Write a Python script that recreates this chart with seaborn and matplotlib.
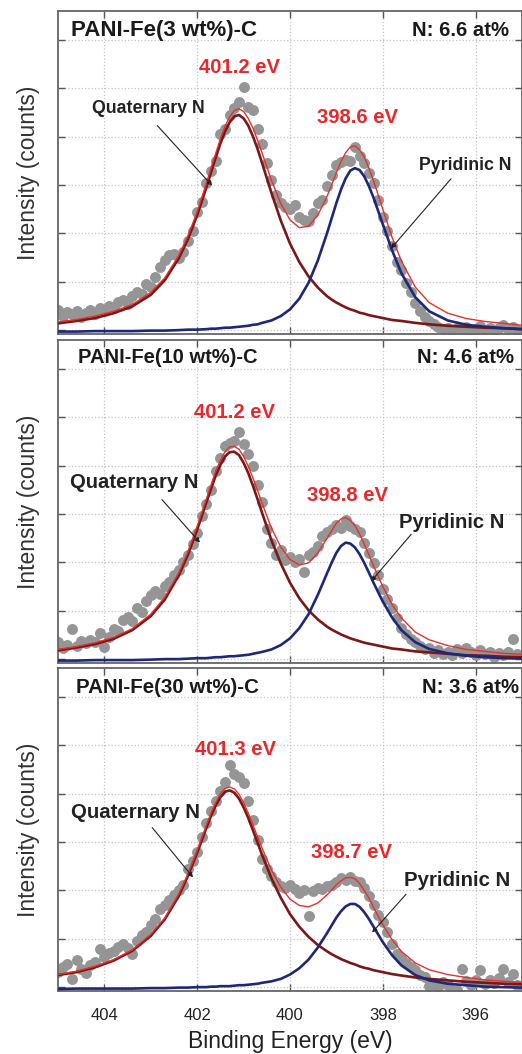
import pandas as pd
import matplotlib.pyplot as plt
import seaborn as sns

sns.set_theme(style="ticks")
plt.rcParams["font.family"] = ["Liberation Sans", "DejaVu Sans"]

# N 1s XPS spectra of three PANI-Fe-C catalysts (arbitrary intensity units)
scan_ev = [
    405.0, 404.9, 404.8, 404.7, 404.6, 404.5, 404.4, 404.3, 404.2, 404.1,
    404.0, 403.9, 403.8, 403.7, 403.6, 403.5, 403.4, 403.3, 403.2, 403.1,
    403.0, 402.9, 402.8, 402.7, 402.6, 402.5, 402.4, 402.3, 402.2, 402.1,
    402.0, 401.9, 401.8, 401.7, 401.6, 401.5, 401.4, 401.3, 401.2, 401.1,
    401.0, 400.9, 400.8, 400.7, 400.6, 400.5, 400.4, 400.3, 400.2, 400.1,
    400.0, 399.9, 399.8, 399.7, 399.6, 399.5, 399.4, 399.3, 399.2, 399.1,
    399.0, 398.9, 398.8, 398.7, 398.6, 398.5, 398.4, 398.3, 398.2, 398.1,
    398.0, 397.9, 397.8, 397.7, 397.6, 397.5, 397.4, 397.3, 397.2, 397.1,
    397.0, 396.9, 396.8, 396.7, 396.6, 396.5, 396.4, 396.3, 396.2, 396.1,
    396.0, 395.9, 395.8, 395.7, 395.6, 395.5, 395.4, 395.3, 395.2, 395.1,
]
spec_3wt = [
    0.42, 0.30, 0.38, 0.33, 0.40, 0.28, 0.36, 0.42, 0.34, 0.45,
    0.40, 0.50, 0.46, 0.58, 0.62, 0.55, 0.70, 0.78, 0.74, 0.95,
    0.90, 1.10, 1.30, 1.45, 1.55, 1.58, 1.50, 1.62, 1.85, 2.05,
    2.45, 2.65, 3.05, 3.30, 3.50, 4.05, 4.15, 4.45, 4.60, 4.72,
    5.03, 4.62, 4.55, 4.15, 3.85, 3.45, 3.10, 2.80, 2.62, 2.55,
    2.50, 2.58, 2.35, 2.28, 2.25, 2.42, 2.62, 2.70, 2.98, 3.20,
    3.42, 3.48, 3.52, 3.50, 3.78, 3.60, 3.45, 3.25, 3.05, 2.70,
    2.35, 2.05, 1.75, 1.40, 1.25, 0.98, 0.78, 0.56, 0.40, 0.27,
    0.18, 0.12, 0.06, 0.02, 0.05, -0.02, 0.04, 0.00, 0.06, -0.03,
    0.03, 0.08, 0.00, 0.05, -0.02, 0.04, 0.10, 0.02, 0.07, 0.00,
]
spec_10wt = [
    0.35, 0.22, 0.30, 0.62, 0.28, 0.38, 0.33, 0.40, 0.36, 0.55,
    0.25, 0.45, 0.62, 0.58, 0.80, 0.88, 0.78, 1.05, 0.98, 1.20,
    1.32, 1.40, 1.35, 1.52, 1.60, 1.75, 1.85, 2.00, 2.15, 2.38,
    2.60, 2.95, 3.20, 3.50, 3.90, 4.15, 4.40, 4.48, 4.52, 4.70,
    4.45, 4.25, 4.00, 3.60, 3.25, 2.70, 2.40, 2.15, 2.25, 2.05,
    2.12, 2.00, 2.08, 1.80, 2.15, 2.22, 2.35, 2.55, 2.62, 2.70,
    2.78, 2.72, 2.88, 2.75, 2.70, 2.62, 2.40, 2.20, 1.98, 1.75,
    1.45, 1.25, 1.05, 0.85, 0.65, 0.52, 0.42, 0.35, 0.28, 0.20,
    0.24, 0.12, 0.18, 0.10, 0.15, 0.08, 0.20, 0.12, 0.22, 0.15,
    0.08, 0.18, 0.10, 0.14, 0.05, 0.12, 0.08, 0.15, 0.42, 0.10,
]
spec_30wt = [
    0.31, 0.42, 0.48, 0.16, 0.56, 0.38, 0.30, 0.45, 0.52, 0.78,
    0.62, 0.70, 0.75, 0.82, 0.90, 0.80, 0.68, 0.95, 1.08, 1.15,
    1.28, 1.40, 1.62, 1.70, 1.80, 1.90, 2.00, 2.12, 2.45, 2.60,
    2.80, 3.10, 3.40, 3.65, 3.85, 4.05, 4.25, 4.60, 4.40, 4.35,
    4.22, 3.85, 3.45, 3.05, 2.65, 2.45, 2.30, 2.18, 2.10, 2.05,
    2.12, 2.02, 1.95, 2.00, 1.48, 1.98, 2.06, 2.02, 2.10, 2.12,
    2.18, 2.25, 2.22, 2.28, 2.20, 2.18, 2.05, 1.88, 1.70, 1.50,
    1.35, 1.15, 0.90, 0.68, 0.60, 0.50, 0.42, 0.35, 0.25, 0.20,
    0.02, 0.08, 0.00, 0.10, 0.05, -0.05, -0.06, 0.38, 0.12, 0.04,
    0.15, 0.35, 0.06, 0.14, 0.08, 0.18, 0.37, 0.10, 0.27, 0.05,
]

fit_ev = [
    405.0, 404.6, 404.2, 403.8, 403.4, 403.0, 402.7, 402.4, 402.2, 402.0,
    401.8, 401.7, 401.6, 401.5, 401.4, 401.3, 401.2, 401.1, 401.0, 400.9,
    400.8, 400.7, 400.6, 400.4, 400.2, 400.0, 399.8, 399.6, 399.4, 399.2,
    399.1, 399.0, 398.9, 398.8, 398.7, 398.6, 398.5, 398.4, 398.3, 398.2,
    398.0, 397.8, 397.6, 397.3, 397.0, 396.6, 396.2, 395.8, 395.4, 395.0,
]
quat_3wt = [
    0.14, 0.19, 0.25, 0.35, 0.49, 0.73, 1.03, 1.48, 1.88, 2.38,
    2.96, 3.27, 3.57, 3.86, 4.11, 4.30, 4.42, 4.45, 4.38, 4.23,
    4.01, 3.75, 3.45, 2.84, 2.27, 1.79, 1.41, 1.11, 0.88, 0.70,
    0.63, 0.57, 0.52, 0.47, 0.43, 0.40, 0.36, 0.34, 0.31, 0.29,
    0.25, 0.21, 0.19, 0.15, 0.12, 0.09, 0.07, 0.05, 0.04, 0.02,
]
pyr_3wt = [
    -0.03, -0.03, -0.02, -0.02, -0.02, -0.01, -0.01, 0.00, 0.01, 0.01,
    0.02, 0.03, 0.03, 0.04, 0.05, 0.05, 0.06, 0.07, 0.08, 0.09,
    0.11, 0.12, 0.15, 0.20, 0.29, 0.43, 0.65, 0.98, 1.44, 2.01,
    2.32, 2.63, 2.91, 3.14, 3.30, 3.35, 3.31, 3.18, 2.98, 2.74,
    2.19, 1.65, 1.18, 0.68, 0.39, 0.20, 0.11, 0.07, 0.04, 0.02,
]
quat_10wt = [
    0.18, 0.24, 0.31, 0.42, 0.60, 0.89, 1.23, 1.73, 2.16, 2.68,
    3.25, 3.53, 3.80, 4.02, 4.19, 4.28, 4.29, 4.22, 4.06, 3.85,
    3.59, 3.31, 3.02, 2.46, 1.98, 1.58, 1.26, 1.01, 0.82, 0.67,
    0.61, 0.56, 0.51, 0.47, 0.43, 0.40, 0.37, 0.34, 0.32, 0.30,
    0.26, 0.22, 0.20, 0.16, 0.14, 0.11, 0.08, 0.07, 0.05, 0.04,
]
pyr_10wt = [
    -0.03, -0.03, -0.02, -0.02, -0.02, -0.01, 0.00, 0.00, 0.01, 0.02,
    0.02, 0.03, 0.04, 0.04, 0.05, 0.06, 0.06, 0.07, 0.08, 0.09,
    0.11, 0.13, 0.15, 0.20, 0.29, 0.43, 0.64, 0.93, 1.33, 1.78,
    2.00, 2.20, 2.34, 2.41, 2.39, 2.31, 2.17, 1.99, 1.79, 1.58,
    1.19, 0.86, 0.60, 0.35, 0.21, 0.12, 0.07, 0.04, 0.02, 0.01,
]
quat_30wt = [
    0.25, 0.31, 0.41, 0.55, 0.75, 1.06, 1.40, 1.88, 2.30, 2.78,
    3.30, 3.55, 3.76, 3.93, 4.04, 4.07, 4.02, 3.90, 3.72, 3.50,
    3.25, 2.99, 2.73, 2.25, 1.85, 1.51, 1.25, 1.04, 0.87, 0.74,
    0.68, 0.63, 0.58, 0.54, 0.50, 0.47, 0.43, 0.40, 0.38, 0.35,
    0.31, 0.27, 0.24, 0.20, 0.17, 0.14, 0.11, 0.09, 0.07, 0.06,
]
pyr_30wt = [
    -0.04, -0.03, -0.03, -0.03, -0.03, -0.02, -0.02, -0.01, -0.01, 0.00,
    0.00, 0.01, 0.01, 0.02, 0.02, 0.02, 0.03, 0.04, 0.04, 0.05,
    0.06, 0.07, 0.09, 0.12, 0.17, 0.26, 0.39, 0.57, 0.82, 1.12,
    1.28, 1.44, 1.57, 1.67, 1.72, 1.72, 1.66, 1.55, 1.41, 1.25,
    0.93, 0.66, 0.45, 0.25, 0.14, 0.07, 0.04, 0.01, 0.00, -0.01,
]
baselines = [-0.06, -0.05, -0.05]

samples = ["PANI-Fe(3 wt%)-C", "PANI-Fe(10 wt%)-C", "PANI-Fe(30 wt%)-C"]
n_content = ["N: 6.6 at%", "N: 4.6 at%", "N: 3.6 at%"]
quat_peaks = ["401.2 eV", "401.2 eV", "401.3 eV"]
pyr_peaks = ["398.6 eV", "398.8 eV", "398.7 eV"]
spectra = [spec_3wt, spec_10wt, spec_30wt]
quat_fits = [quat_3wt, quat_10wt, quat_30wt]
pyr_fits = [pyr_3wt, pyr_10wt, pyr_30wt]

# label placement per panel (data coords)
title_y = [6.19, 6.23, 6.19]
title_x = [404.73, 404.56, 404.62]
n_x = [395.29, 395.18, 395.07]
title_size = [16, 14.5, 14.8]
quat_lab_xy = [(401.08, 5.44), (401.19, 5.11), (401.17, 4.91)]
pyr_lab_xy = [(398.55, 4.39), (398.76, 3.38), (398.68, 2.78)]
quat_txt = [(403.06, 4.58), (403.36, 3.65), (403.33, 3.61)]
quat_arrow = [((402.86, 4.23), (401.68, 2.99)), ((402.76, 3.30), (401.94, 2.41)),
              ((402.97, 3.30), (402.09, 2.27))]
pyr_txt = [(396.23, 3.40), (396.51, 2.82), (396.40, 2.21)]
pyr_arrow = [((396.53, 3.13), (397.82, 1.69)), ((397.39, 2.58), (398.25, 1.61)),
             ((397.50, 1.92), (398.23, 1.13))]
comp_size = [12.8, 14.6, 14.7]

colors = {"Quaternary N": "#7a1818", "Pyridinic N": "#1e2878", "Envelope": "#e8302c"}
widths = {"Quaternary N": 1.9, "Pyridinic N": 1.9, "Envelope": 1.0}

W, H = 522, 1054
fig = plt.figure(figsize=(W / 100, H / 100), dpi=100)
tops = [11, 340, 668]
panel_h = 323

for i in range(3):
    ax = fig.add_axes([58 / W, 1 - (tops[i] + panel_h) / H, 1 - 58 / W, panel_h / H])

    spec = pd.DataFrame({"energy": scan_ev, "counts": spectra[i]})
    sns.scatterplot(data=spec, x="energy", y="counts", color="#959595", s=62,
                    linewidth=0, ax=ax, zorder=2)

    fits = pd.DataFrame({"energy": fit_ev, "Quaternary N": quat_fits[i],
                         "Pyridinic N": pyr_fits[i]})
    fits["Envelope"] = fits["Quaternary N"] + fits["Pyridinic N"] - baselines[i]
    for comp in ["Quaternary N", "Pyridinic N", "Envelope"]:
        sns.lineplot(data=fits, x="energy", y=comp, color=colors[comp],
                     linewidth=widths[comp], ax=ax, zorder=3)

    ax.set_xlim(405, 395.0)
    ax.set_ylim(-0.08, 6.6)
    ax.set_xticks([404, 402, 400, 398, 396])
    ax.set_yticks(range(7))
    ax.set_yticklabels([])
    ax.grid(True, linestyle=":", color="#c4c4c4", linewidth=0.9)
    ax.tick_params(direction="in", length=5, width=1, top=True, right=True,
                   colors="#555555", labelcolor="#222222", labelsize=12, pad=12)
    for sp in ax.spines.values():
        sp.set_color("#666666")
        sp.set_linewidth(1.3)
    ax.set_ylabel("Intensity (counts)", fontsize=16.5, color="#333333", labelpad=1)
    if i < 2:
        ax.set_xticklabels([])
        ax.set_xlabel("")
    else:
        ax.set_xlabel("Binding Energy (eV)", fontsize=16.5, color="#222222", labelpad=5)

    ax.text(title_x[i], title_y[i], samples[i], fontsize=title_size[i], fontweight="bold",
            color="#1a1a1a", ha="left", va="center")
    ax.text(n_x[i], title_y[i], n_content[i], fontsize=14.6, fontweight="bold",
            color="#1a1a1a", ha="right", va="center")
    ax.text(*quat_lab_xy[i], quat_peaks[i], fontsize=14.6, fontweight="bold",
            color="#e8282a", ha="center", va="center")
    ax.text(*pyr_lab_xy[i], pyr_peaks[i], fontsize=14.6, fontweight="bold",
            color="#e8282a", ha="center", va="center")
    ax.text(*quat_txt[i], "Quaternary N", fontsize=comp_size[i], fontweight="bold",
            color="#222222", ha="center", va="center")
    ax.text(*pyr_txt[i], "Pyridinic N", fontsize=comp_size[i], fontweight="bold",
            color="#222222", ha="center", va="center")
    for tail, tip in [quat_arrow[i], pyr_arrow[i]]:
        ax.annotate("", xy=tip, xytext=tail,
                    arrowprops=dict(arrowstyle="-|>", color="#222222", lw=0.8,
                                    mutation_scale=7, shrinkA=0, shrinkB=0),
                    zorder=4)

fig.savefig("out.png", dpi=100)
